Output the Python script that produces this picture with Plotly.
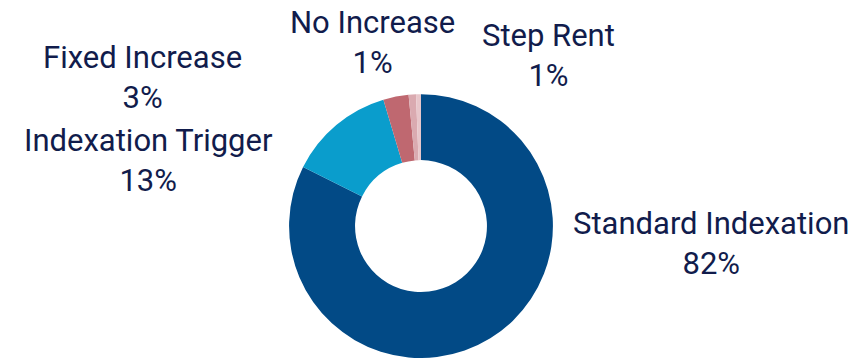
import plotly.graph_objects as go

# Lease indexation mix (share of leases, %)
categories = ["Standard Indexation", "Indexation Trigger", "Fixed Increase", "No Increase", "Step Rent"]
shares = [82.4, 13.0, 3.1, 0.9, 0.6]
colors = ["#024A86", "#0A9DCC", "#BF6870", "#DAAAB0", "#E8C6CA"]

# Label placement (pixel centre of each two-line label)
label_pos = {
    "Standard Indexation": (711, 244),
    "Indexation Trigger": (148, 160),
    "Fixed Increase": (142, 78),
    "No Increase": (372, 42),
    "Step Rent": (548, 55),
}

W, H = 856, 358
text_color = "#111C4C"
font_family = "Roboto, Arial, sans-serif"

fig = go.Figure(
    go.Pie(
        labels=categories,
        values=shares,
        hole=0.5,
        sort=False,
        direction="clockwise",
        rotation=0,
        marker=dict(colors=colors, line=dict(width=0)),
        textinfo="none",
        hoverinfo="label+percent",
        domain=dict(x=[287 / W, 555 / W], y=[0, 0.737]),
        showlegend=False,
    )
)

total = sum(shares)
for name, val in zip(categories, shares):
    px, py = label_pos[name]
    fig.add_annotation(
        x=px / W,
        y=1 - py / H,
        xref="paper",
        yref="paper",
        xanchor="center",
        yanchor="middle",
        showarrow=False,
        align="center",
        text=f"{name}<br>{round(val / total * 100)}%",
        font=dict(family=font_family, size=31, color=text_color),
    )

fig.update_layout(
    width=W,
    height=H,
    margin=dict(l=0, r=0, t=0, b=0),
    paper_bgcolor="white",
    plot_bgcolor="white",
)

fig.write_html("out.html")
